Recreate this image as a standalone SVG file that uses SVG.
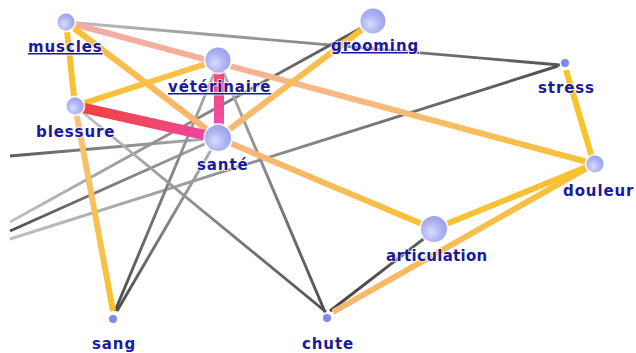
<svg xmlns="http://www.w3.org/2000/svg" width="636" height="353" viewBox="0 0 636 353">
<style>
.e{fill:none;stroke-linecap:butt}
.g{stroke-width:2.9}
.t{stroke-width:6}
.lbl{font-family:"DejaVu Sans","Verdana",sans-serif;font-weight:bold;font-size:15px;letter-spacing:0.9px;fill:#1a1a9c;stroke:#ffffff;stroke-width:2;stroke-opacity:0.7;paint-order:stroke;stroke-linejoin:round}
.lnk{text-decoration:underline}
.halo{fill:#ffffff;opacity:0.8}
.big{fill:url(#nodeGrad)}
.small{fill:#8088ec}
</style>
<defs>
<radialGradient id="nodeGrad" cx="0.4" cy="0.62" r="0.7">
<stop offset="0" stop-color="#d8dcff"/>
<stop offset="0.55" stop-color="#adb3f2"/>
<stop offset="1" stop-color="#969eea"/>
</radialGradient>
<linearGradient id="g2" gradientUnits="userSpaceOnUse" x1="66" y1="22" x2="595" y2="164"><stop offset="0" stop-color="#f2aaa6"/><stop offset="0.5" stop-color="#f8b88a"/><stop offset="1" stop-color="#f7c232"/></linearGradient>
<linearGradient id="g3" gradientUnits="userSpaceOnUse" x1="66" y1="22" x2="218" y2="138"><stop offset="0" stop-color="#f7c232"/><stop offset="1" stop-color="#f8b47c"/></linearGradient>
<linearGradient id="g4" gradientUnits="userSpaceOnUse" x1="66" y1="22" x2="560" y2="65"><stop offset="0" stop-color="#bcbcbc"/><stop offset="1" stop-color="#555555"/></linearGradient>
<linearGradient id="g5" gradientUnits="userSpaceOnUse" x1="75" y1="106" x2="218" y2="60"><stop offset="0" stop-color="#f7c232"/><stop offset="1" stop-color="#f8c050"/></linearGradient>
<linearGradient id="g6" gradientUnits="userSpaceOnUse" x1="75" y1="106" x2="218" y2="138"><stop offset="0" stop-color="#f04038"/><stop offset="0.6" stop-color="#f04870"/><stop offset="1" stop-color="#f040b8"/></linearGradient>
<linearGradient id="g7" gradientUnits="userSpaceOnUse" x1="219" y1="60" x2="219" y2="138"><stop offset="0" stop-color="#f04470"/><stop offset="1" stop-color="#f050b0"/></linearGradient>
<linearGradient id="g8" gradientUnits="userSpaceOnUse" x1="75" y1="106" x2="113" y2="311"><stop offset="0" stop-color="#f8c080"/><stop offset="1" stop-color="#f7c230"/></linearGradient>
<linearGradient id="g9" gradientUnits="userSpaceOnUse" x1="75" y1="106" x2="326" y2="312"><stop offset="0" stop-color="#c4c4c4"/><stop offset="1" stop-color="#505050"/></linearGradient>
<linearGradient id="g10" gradientUnits="userSpaceOnUse" x1="218" y1="138" x2="372" y2="22"><stop offset="0" stop-color="#f8b880"/><stop offset="1" stop-color="#f7c230"/></linearGradient>
<linearGradient id="g11" gradientUnits="userSpaceOnUse" x1="218" y1="138" x2="434" y2="229"><stop offset="0" stop-color="#f8b484"/><stop offset="1" stop-color="#f7c230"/></linearGradient>
<linearGradient id="g12" gradientUnits="userSpaceOnUse" x1="10" y1="156" x2="218" y2="138"><stop offset="0" stop-color="#5c5c5c"/><stop offset="1" stop-color="#b4b4b4"/></linearGradient>
<linearGradient id="g13" gradientUnits="userSpaceOnUse" x1="10" y1="231" x2="218" y2="138"><stop offset="0" stop-color="#505050"/><stop offset="1" stop-color="#a8a8a8"/></linearGradient>
<linearGradient id="g14" gradientUnits="userSpaceOnUse" x1="10" y1="222" x2="372" y2="22"><stop offset="0" stop-color="#c0c0c0"/><stop offset="1" stop-color="#505050"/></linearGradient>
<linearGradient id="g15" gradientUnits="userSpaceOnUse" x1="10" y1="239" x2="558" y2="66"><stop offset="0" stop-color="#c0c0c0"/><stop offset="1" stop-color="#505050"/></linearGradient>
<linearGradient id="g16" gradientUnits="userSpaceOnUse" x1="219" y1="62" x2="115" y2="311"><stop offset="0" stop-color="#b4b4b4"/><stop offset="1" stop-color="#4c4c4c"/></linearGradient>
<linearGradient id="g17" gradientUnits="userSpaceOnUse" x1="218" y1="138" x2="117" y2="311"><stop offset="0" stop-color="#b4b4b4"/><stop offset="1" stop-color="#4c4c4c"/></linearGradient>
<linearGradient id="g18" gradientUnits="userSpaceOnUse" x1="219" y1="62" x2="325" y2="312"><stop offset="0" stop-color="#b4b4b4"/><stop offset="1" stop-color="#4c4c4c"/></linearGradient>
<linearGradient id="g19" gradientUnits="userSpaceOnUse" x1="330" y1="311" x2="426" y2="237"><stop offset="0" stop-color="#404040"/><stop offset="1" stop-color="#606060"/></linearGradient>
<linearGradient id="g20" gradientUnits="userSpaceOnUse" x1="333" y1="312" x2="594" y2="164"><stop offset="0" stop-color="#f8b874"/><stop offset="1" stop-color="#f7c230"/></linearGradient>
</defs>
<rect x="0" y="0" width="636" height="353" fill="#ffffff"/>
<g id="connectors">
<line class="e g" x1="66" y1="22" x2="560" y2="65" stroke="url(#g4)"/>
<line class="e g" x1="10" y1="156" x2="218" y2="138" stroke="url(#g12)"/>
<line class="e g" x1="10" y1="231" x2="218" y2="138" stroke="url(#g13)"/>
<line class="e g" x1="10" y1="222" x2="372" y2="22" stroke="url(#g14)"/>
<line class="e g" x1="10" y1="239" x2="558" y2="66" stroke="url(#g15)"/>
<line class="e g" x1="219" y1="62" x2="115" y2="311" stroke="url(#g16)"/>
<line class="e g" x1="218" y1="138" x2="117" y2="311" stroke="url(#g17)"/>
<line class="e g" x1="219" y1="62" x2="325" y2="312" stroke="url(#g18)"/>
<line class="e g" x1="75" y1="106" x2="326" y2="312" stroke="url(#g9)"/>
<line class="e g" x1="330" y1="311" x2="426" y2="237" stroke="url(#g19)"/>
<line class="e t" x1="66" y1="22" x2="75" y2="106" stroke="#f7c232"/>
<line class="e t" x1="66" y1="22" x2="595" y2="164" stroke="url(#g2)"/>
<line class="e t" x1="66" y1="22" x2="218" y2="138" stroke="url(#g3)"/>
<line class="e t" x1="75" y1="106" x2="218" y2="60" stroke="url(#g5)"/>
<line class="e t" x1="75" y1="106" x2="113" y2="311" stroke="url(#g8)"/>
<line class="e t" x1="218" y1="138" x2="372" y2="22" stroke="url(#g10)"/>
<line class="e t" x1="218" y1="138" x2="434" y2="229" stroke="url(#g11)"/>
<line class="e t" x1="333" y1="312" x2="594" y2="164" stroke="url(#g20)"/>
<line class="e t" x1="434" y1="229" x2="594" y2="164" stroke="#f7c232"/>
<line class="e t" x1="566" y1="70" x2="594" y2="164" stroke="#f7c528"/>
<line class="e" x1="75" y1="106" x2="218" y2="138" stroke="url(#g6)" stroke-width="10.5"/>
<line class="e" x1="219" y1="60" x2="219" y2="138" stroke="url(#g7)" stroke-width="10"/>
</g>
<g id="node-muscles">
<circle class="halo" cx="66" cy="22" r="10.5"/>
<circle class="big" cx="66" cy="22" r="8.5"/>
<text class="lbl lnk" x="28" y="52">muscles</text>
</g>
<g id="node-veterinaire">
<circle class="halo" cx="218" cy="60" r="14.5"/>
<circle class="big" cx="218" cy="60" r="12.5"/>
<text class="lbl lnk" x="168" y="92">vétérinaire</text>
</g>
<g id="node-grooming">
<circle class="halo" cx="373" cy="21" r="14.5"/>
<circle class="big" cx="373" cy="21" r="12.5"/>
<text class="lbl lnk" x="331" y="51">grooming</text>
</g>
<g id="node-stress">
<circle class="halo" cx="565" cy="63" r="5.5"/>
<circle class="small" cx="565" cy="63" r="4"/>
<text class="lbl" x="538" y="93">stress</text>
</g>
<g id="node-blessure">
<circle class="halo" cx="75" cy="106" r="10.5"/>
<circle class="big" cx="75" cy="106" r="8.5"/>
<text class="lbl" x="36" y="137">blessure</text>
</g>
<g id="node-sante">
<circle class="halo" cx="218" cy="138" r="15"/>
<circle class="big" cx="218" cy="138" r="13"/>
<text class="lbl" x="197" y="170">santé</text>
</g>
<g id="node-douleur">
<circle class="halo" cx="595" cy="164" r="10.5"/>
<circle class="big" cx="595" cy="164" r="8.5"/>
<text class="lbl" x="563" y="196">douleur</text>
</g>
<g id="node-articulation">
<circle class="halo" cx="434" cy="229" r="15"/>
<circle class="big" cx="434" cy="229" r="13"/>
<text class="lbl" x="386" y="261" style="letter-spacing:0.3px">articulation</text>
</g>
<g id="node-sang">
<circle class="halo" cx="113" cy="319" r="5.5"/>
<circle class="small" cx="113" cy="319" r="4"/>
<text class="lbl" x="92" y="349">sang</text>
</g>
<g id="node-chute">
<circle class="halo" cx="327" cy="318" r="5.5"/>
<circle class="small" cx="327" cy="318" r="4"/>
<text class="lbl" x="302" y="349">chute</text>
</g>
</svg>
